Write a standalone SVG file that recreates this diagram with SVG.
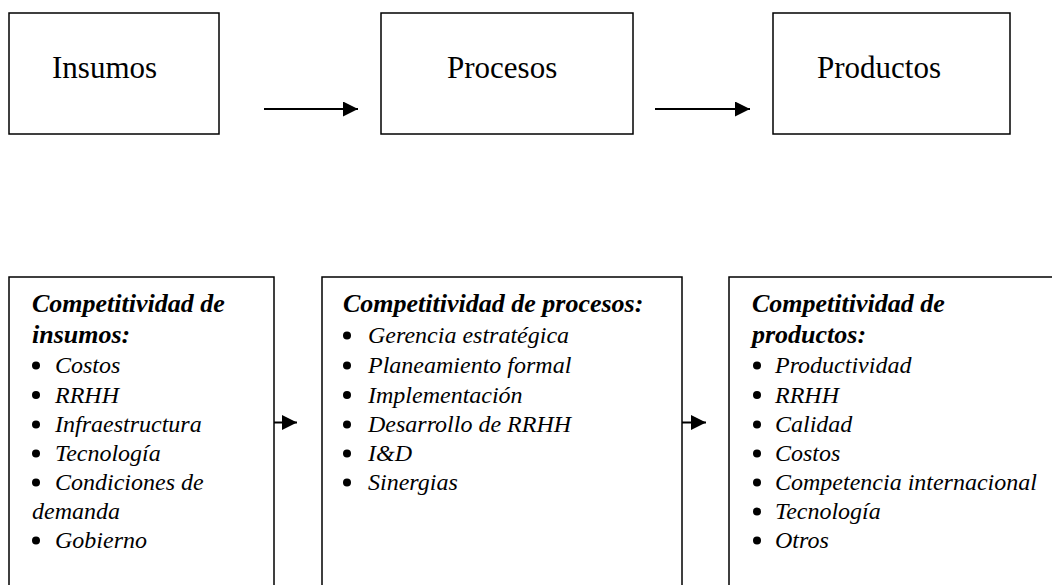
<svg xmlns="http://www.w3.org/2000/svg" width="1052" height="585" viewBox="0 0 1052 585">
<defs>
<style>
.box{fill:#fff;stroke:#000;stroke-width:1.5}
.big{font-family:"Liberation Serif","Times New Roman",serif;font-size:31px;fill:#000}
.hd{font-family:"Liberation Serif","Times New Roman",serif;font-size:26px;font-weight:bold;font-style:italic;fill:#000}
.it{font-family:"Liberation Serif","Times New Roman",serif;font-size:24px;font-style:italic;fill:#000}
.conn{stroke:#000;stroke-width:2;fill:none}
.dot{fill:#000}
</style>
<marker id="ah" markerWidth="15" markerHeight="15" viewBox="0 0 15 15" refX="15" refY="7.5" orient="auto" markerUnits="userSpaceOnUse">
<path d="M0,0 L15,7.5 L0,15 Z" fill="#000"/>
</marker>
</defs>
<rect width="1052" height="585" fill="#fff"/>
<g id="insumos">
<rect class="box" x="9" y="13" width="210" height="121"/>
<text class="big" x="52" y="78">Insumos</text>
</g>
<g id="procesos">
<rect class="box" x="381" y="13" width="252" height="121"/>
<text class="big" x="447" y="78">Procesos</text>
</g>
<g id="productos">
<rect class="box" x="773" y="13" width="237" height="121"/>
<text class="big" x="817" y="78">Productos</text>
</g>
<g id="comp-insumos">
<rect class="box" x="9" y="277" width="265" height="330"/>
<text class="hd" x="32" y="312">Competitividad de</text>
<text class="hd" x="32" y="342.5">insumos:</text>
<circle class="dot" cx="36" cy="365.5" r="4"/><text class="it" x="55" y="373">Costos</text>
<circle class="dot" cx="36" cy="395" r="4"/><text class="it" x="55" y="402.5">RRHH</text>
<circle class="dot" cx="36" cy="424.5" r="4"/><text class="it" x="55" y="432">Infraestructura</text>
<circle class="dot" cx="36" cy="453.5" r="4"/><text class="it" x="55" y="461">Tecnología</text>
<circle class="dot" cx="36" cy="482.5" r="4"/><text class="it" x="55" y="490">Condiciones de</text>
<text class="it" x="32" y="519">demanda</text>
<circle class="dot" cx="36" cy="540.5" r="4"/><text class="it" x="55" y="548">Gobierno</text>
</g>
<g id="comp-procesos">
<rect class="box" x="322" y="277" width="360" height="330"/>
<text class="hd" x="343" y="312">Competitividad de procesos:</text>
<circle class="dot" cx="347" cy="335.5" r="4"/><text class="it" x="368" y="343">Gerencia estratégica</text>
<circle class="dot" cx="347" cy="365.5" r="4"/><text class="it" x="368" y="373">Planeamiento formal</text>
<circle class="dot" cx="347" cy="395" r="4"/><text class="it" x="368" y="402.5">Implementación</text>
<circle class="dot" cx="347" cy="424.5" r="4"/><text class="it" x="368" y="432">Desarrollo de RRHH</text>
<circle class="dot" cx="347" cy="453.5" r="4"/><text class="it" x="368" y="461">I&amp;D</text>
<circle class="dot" cx="347" cy="482.5" r="4"/><text class="it" x="368" y="490">Sinergias</text>
</g>
<g id="comp-productos">
<rect class="box" x="729" y="277" width="340" height="330"/>
<text class="hd" x="752" y="312">Competitividad de</text>
<text class="hd" x="752" y="342.5">productos:</text>
<circle class="dot" cx="757" cy="365.5" r="4"/><text class="it" x="775" y="373">Productividad</text>
<circle class="dot" cx="757" cy="395" r="4"/><text class="it" x="775" y="402.5">RRHH</text>
<circle class="dot" cx="757" cy="424.5" r="4"/><text class="it" x="775" y="432">Calidad</text>
<circle class="dot" cx="757" cy="453.5" r="4"/><text class="it" x="775" y="461">Costos</text>
<circle class="dot" cx="757" cy="482.5" r="4"/><text class="it" x="775" y="490">Competencia internacional</text>
<circle class="dot" cx="757" cy="511.5" r="4"/><text class="it" x="775" y="519">Tecnología</text>
<circle class="dot" cx="757" cy="540.5" r="4"/><text class="it" x="775" y="548">Otros</text>
</g>
<g id="connectors">
<line class="conn" x1="264" y1="109" x2="358" y2="109" marker-end="url(#ah)"/>
<line class="conn" x1="655" y1="109" x2="750" y2="109" marker-end="url(#ah)"/>
<line class="conn" x1="274" y1="422.5" x2="297" y2="422.5" marker-end="url(#ah)"/>
<line class="conn" x1="682" y1="422.5" x2="706" y2="422.5" marker-end="url(#ah)"/>
</g>
</svg>
